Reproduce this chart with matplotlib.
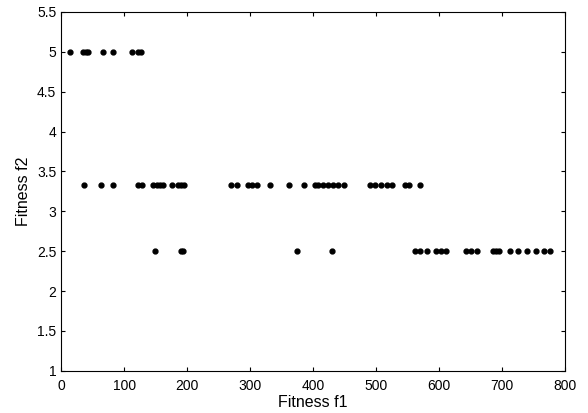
import matplotlib
matplotlib.use("Agg")
import matplotlib.pyplot as plt

plt.rcParams["font.family"] = ["Liberation Sans", "DejaVu Sans"]

# objective values of the solution set, grouped by f2 level
f1_top = [14, 35, 39.5, 43, 66, 83, 113, 122, 127.5]
f2_top = [5.0] * len(f1_top)

f1_mid = [35.5, 62.7, 82, 122, 129, 146, 152, 156.5, 161, 176.5, 185.5, 191, 195,
          270, 279, 296, 303, 311.5, 331, 362.5, 385, 403,
          408, 416, 424, 432, 440, 449.5, 491, 499, 507, 517.5, 524.5,
          545.5, 553, 570]
f2_mid = [10 / 3] * len(f1_mid)

f1_low = [149.7, 191, 193, 374, 429.5, 561, 569, 581, 595, 603.5, 611,
          642, 650, 660, 685, 690.5, 695, 712.5, 726, 740, 754, 767, 776]
f2_low = [2.5] * len(f1_low)

fig = plt.figure(figsize=(5.88, 4.13), dpi=100)
ax = fig.add_axes([0.104, 0.102, 0.857, 0.869])

for xs, ys in [(f1_top, f2_top), (f1_mid, f2_mid), (f1_low, f2_low)]:
    ax.plot(xs, ys, "k.", markersize=7, linestyle="none")

ax.set_xlim(0, 800)
ax.set_ylim(1, 5.5)
ax.set_xticks(range(0, 801, 100))
ax.set_yticks([1, 1.5, 2, 2.5, 3, 3.5, 4, 4.5, 5, 5.5])
ax.set_yticklabels(["1", "1.5", "2", "2.5", "3", "3.5", "4", "4.5", "5", "5.5"])
ax.tick_params(direction="in", top=True, right=True, labelsize=10, length=3)
ax.tick_params(axis="x", pad=6)
ax.set_xlabel("Fitness f1", fontsize=11.5, labelpad=1)
ax.set_ylabel("Fitness f2", fontsize=11.5, labelpad=4)

fig.savefig("out.png", dpi=100)
